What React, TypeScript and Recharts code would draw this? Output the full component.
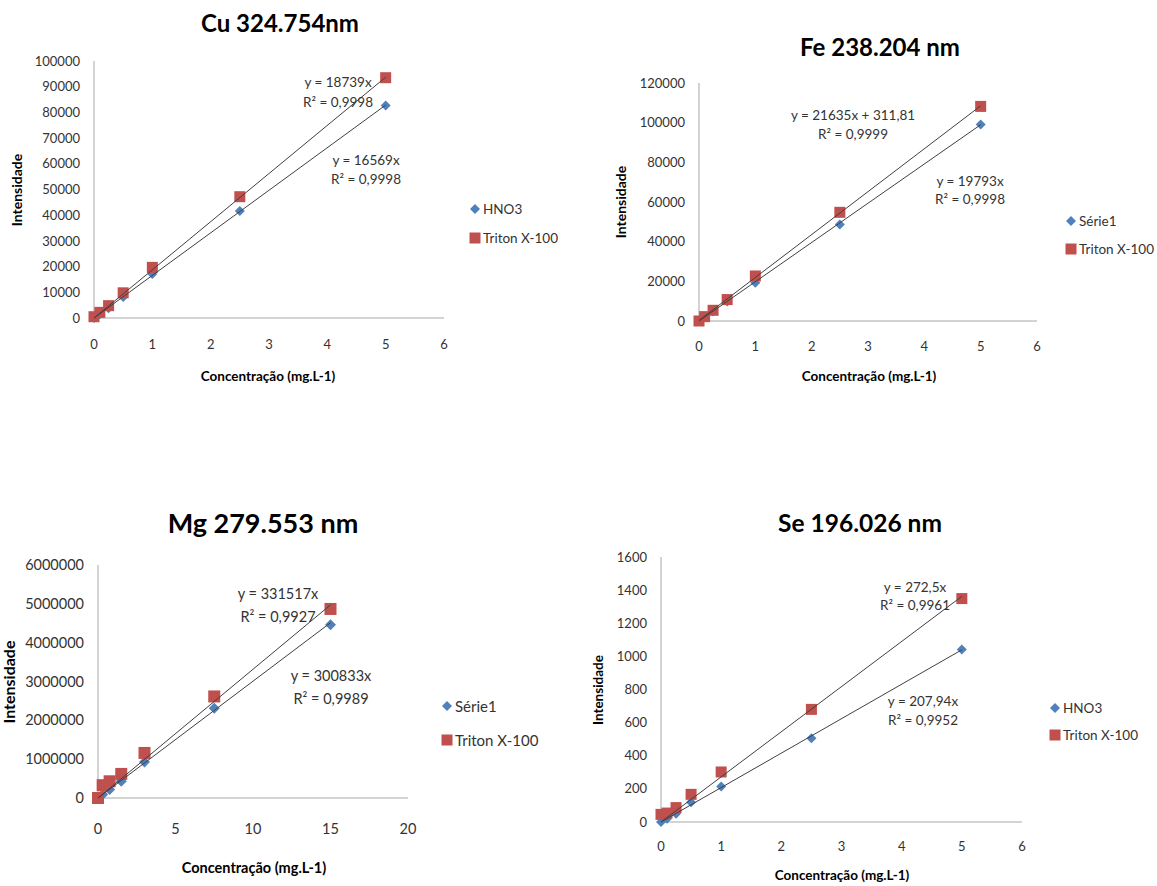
import React from 'react';
import { ScatterChart, Scatter, XAxis, YAxis, Legend } from 'recharts';

const FONT = "Lato, 'Open Sans', 'Liberation Sans', sans-serif";
const BLUE = '#4f81bd';
const RED = '#c0504d';
const FIT = '#404040';
const AXIS = '#c4c4c4';
const TEXT = '#333333';

// concentrations (mg.L-1)
const concX = [0, 0.1, 0.25, 0.5, 1, 2.5, 5];
const mgConcX = [0, 0.3, 0.75, 1.5, 3, 7.5, 15];
const fitX = [0, 5];
const mgFitX = [0, 15];

// intensities
const cuHno3 = [0, 1500, 3800, 8200, 17100, 41600, 82700];
const cuTriton = [500, 2200, 4800, 9800, 19700, 47200, 93500];
const feSerie1 = [0, 1900, 4900, 9800, 19300, 48600, 99100];
const feTriton = [0, 2200, 5400, 10800, 22700, 54800, 108200];
const mgSerie1 = [0, 90000, 220000, 430000, 930000, 2310000, 4460000];
const mgTriton = [0, 330000, 430000, 620000, 1160000, 2615000, 4868000];
const seHno3 = [0, 20, 50, 120, 214, 505, 1041];
const seTriton = [46, 54, 87, 167, 302, 680, 1349];

// trendline ends (from the fitted equations)
const cuHno3Fit = [0, 82845];
const cuTritonFit = [0, 93695];
const feSerie1Fit = [0, 98965];
const feTritonFit = [311.81, 108486.81];
const mgSerie1Fit = [0, 4512495];
const mgTritonFit = [0, 4972755];
const seHno3Fit = [0, 1039.7];
const seTritonFit = [0, 1362.5];

// tick labels
const xTicks6 = [0, 1, 2, 3, 4, 5, 6];
const mgXTicks = [0, 5, 10, 15, 20];
const cuYTicks = [0, 10000, 20000, 30000, 40000, 50000, 60000, 70000, 80000, 90000, 100000];
const feYTicks = [0, 20000, 40000, 60000, 80000, 100000, 120000];
const mgYTicks = [0, 1000000, 2000000, 3000000, 4000000, 5000000, 6000000];
const seYTicks = [0, 200, 400, 600, 800, 1000, 1200, 1400, 1600];

const pts = (xs: number[], ys: number[]) => xs.map((x, i) => ({ x, y: ys[i] }));

const diamondShape = (r: number) => (p: any) => (
  <path d={`M${p.cx},${p.cy - r}L${p.cx + r},${p.cy}L${p.cx},${p.cy + r}L${p.cx - r},${p.cy}Z`} fill={BLUE} />
);
const squareShape = (s: number) => (p: any) => (
  <rect x={p.cx - s / 2} y={p.cy - s / 2} width={s} height={s} fill={RED} />
);
const noShape = () => <g />;

type Txt = { text: string; x: number; y: number; size: number; bold?: boolean; rotate?: boolean; color?: string };

type PanelCfg = {
  box: { left: number; top: number; width: number; height: number };
  plot: { left: number; right: number; top: number; bottom: number };
  xDomain: [number, number];
  xTicks: number[];
  yDomain: [number, number];
  yTicks: number[];
  blueName: string;
  blue: { x: number; y: number }[];
  red: { x: number; y: number }[];
  blueFit: { x: number; y: number }[];
  redFit: { x: number; y: number }[];
  tickFont: number;
  xTickMargin: number;
  legend: { x: number; y: number; gap: number; font: number };
  marker: number;
  texts: Txt[];
};

const panels: PanelCfg[] = [
  {
    box: { left: 0, top: 0, width: 580, height: 400 },
    plot: { left: 94, right: 444, top: 61, bottom: 318 },
    xDomain: [0, 6], xTicks: xTicks6, yDomain: [0, 100000], yTicks: cuYTicks,
    blueName: 'HNO3',
    blue: pts(concX, cuHno3), red: pts(concX, cuTriton),
    blueFit: pts(fitX, cuHno3Fit), redFit: pts(fitX, cuTritonFit),
    tickFont: 13, xTickMargin: 22,
    legend: { x: 475, y: 209, gap: 29, font: 13.5 },
    marker: 11,
    texts: [
      { text: 'Cu 324.754nm', x: 280, y: 23, size: 24, bold: true, color: '#000' },
      { text: 'Concentração (mg.L-1)', x: 268, y: 377, size: 13.5, bold: true, color: '#000' },
      { text: 'Intensidade', x: 17, y: 190, size: 14, bold: true, rotate: true, color: '#000' },
      { text: 'y = 18739x', x: 338, y: 83, size: 13.5 },
      { text: 'R² = 0,9998', x: 338, y: 103, size: 13.5 },
      { text: 'y = 16569x', x: 366, y: 161, size: 13.5 },
      { text: 'R² = 0,9998', x: 366, y: 180, size: 13.5 },
    ],
  },
  {
    box: { left: 580, top: 0, width: 577, height: 400 },
    plot: { left: 699, right: 1037, top: 83, bottom: 321 },
    xDomain: [0, 6], xTicks: xTicks6, yDomain: [0, 120000], yTicks: feYTicks,
    blueName: 'Série1',
    blue: pts(concX, feSerie1), red: pts(concX, feTriton),
    blueFit: pts(fitX, feSerie1Fit), redFit: pts(fitX, feTritonFit),
    tickFont: 13, xTickMargin: 21,
    legend: { x: 1071, y: 221, gap: 28, font: 13.5 },
    marker: 11,
    texts: [
      { text: 'Fe 238.204 nm', x: 880, y: 47, size: 24, bold: true, color: '#000' },
      { text: 'Concentração (mg.L-1)', x: 869, y: 377, size: 13.5, bold: true, color: '#000' },
      { text: 'Intensidade', x: 621, y: 202, size: 14, bold: true, rotate: true, color: '#000' },
      { text: 'y = 21635x + 311,81', x: 853, y: 116, size: 13.5 },
      { text: 'R² = 0,9999', x: 853, y: 135, size: 13.5 },
      { text: 'y = 19793x', x: 970, y: 182, size: 13.5 },
      { text: 'R² = 0,9998', x: 970, y: 200, size: 13.5 },
    ],
  },
  {
    box: { left: 0, top: 490, width: 580, height: 396 },
    plot: { left: 98, right: 408, top: 565, bottom: 798 },
    xDomain: [0, 20], xTicks: mgXTicks, yDomain: [0, 6000000], yTicks: mgYTicks,
    blueName: 'Série1',
    blue: pts(mgConcX, mgSerie1), red: pts(mgConcX, mgTriton),
    blueFit: pts(mgFitX, mgSerie1Fit), redFit: pts(mgFitX, mgTritonFit),
    tickFont: 14.5, xTickMargin: 26,
    legend: { x: 447, y: 706, gap: 34, font: 15 },
    marker: 12,
    texts: [
      { text: 'Mg 279.553 nm', x: 263, y: 522, size: 27, bold: true, color: '#000' },
      { text: 'Concentração (mg.L-1)', x: 254, y: 868, size: 14.5, bold: true, color: '#000' },
      { text: 'Intensidade', x: 9, y: 682, size: 16, bold: true, rotate: true, color: '#000' },
      { text: 'y = 331517x', x: 278, y: 594, size: 14.5 },
      { text: 'R² = 0,9927', x: 278, y: 617, size: 14.5 },
      { text: 'y = 300833x', x: 331, y: 676, size: 14.5 },
      { text: 'R² = 0,9989', x: 331, y: 699, size: 14.5 },
    ],
  },
  {
    box: { left: 580, top: 490, width: 577, height: 396 },
    plot: { left: 661, right: 1022, top: 557, bottom: 822 },
    xDomain: [0, 6], xTicks: xTicks6, yDomain: [0, 1600], yTicks: seYTicks,
    blueName: 'HNO3',
    blue: pts(concX, seHno3), red: pts(concX, seTriton),
    blueFit: pts(fitX, seHno3Fit), redFit: pts(fitX, seTritonFit),
    tickFont: 13, xTickMargin: 20,
    legend: { x: 1055, y: 708, gap: 27, font: 13.5 },
    marker: 11,
    texts: [
      { text: 'Se 196.026 nm', x: 860, y: 523, size: 24.5, bold: true, color: '#000' },
      { text: 'Concentração (mg.L-1)', x: 842, y: 876, size: 13.5, bold: true, color: '#000' },
      { text: 'Intensidade', x: 599, y: 690, size: 13.5, bold: true, rotate: true, color: '#000' },
      { text: 'y = 272,5x', x: 915, y: 588, size: 13.5 },
      { text: 'R² = 0,9961', x: 915, y: 606, size: 13.5 },
      { text: 'y = 207,94x', x: 923, y: 702, size: 13.5 },
      { text: 'R² = 0,9952', x: 923, y: 721, size: 13.5 },
    ],
  },
];

const Panel = ({ cfg }: { cfg: PanelCfg }) => {
  const { box, plot, legend } = cfg;
  const margin = { top: plot.top - box.top, right: box.left + box.width - plot.right, bottom: 0, left: 0 };
  const tick = { fill: TEXT, fontSize: cfg.tickFont, fontFamily: FONT };
  const half = cfg.marker / 2;

  const renderLegend = (props: any) => (
    <div style={{ fontFamily: FONT, fontSize: legend.font, color: TEXT }}>
      {(props.payload || []).filter((e: any) => e.type !== 'none').map((e: any) => (
        <div key={e.value} style={{ display: 'flex', alignItems: 'center', height: legend.gap, whiteSpace: 'nowrap' }}>
          <svg width={12} height={12} style={{ marginRight: 2 }}>
            {e.type === 'diamond'
              ? <path d="M6,1L11,6L6,11L1,6Z" fill={BLUE} />
              : <rect x={0.5} y={0.5} width={11} height={11} fill={RED} />}
          </svg>
          <span>{e.value}</span>
        </div>
      ))}
    </div>
  );

  return (
    <div style={{ position: 'absolute', left: box.left, top: box.top }}>
      <ScatterChart width={box.width} height={box.height} margin={margin}>
        <XAxis
          type="number"
          dataKey="x"
          domain={cfg.xDomain}
          ticks={cfg.xTicks}
          interval={0}
          height={box.top + box.height - plot.bottom}
          tickLine={false}
          tickSize={0}
          tickMargin={cfg.xTickMargin}
          axisLine={{ stroke: AXIS, strokeWidth: 1.5 }}
          tick={tick}
        />
        <YAxis
          type="number"
          dataKey="y"
          domain={cfg.yDomain}
          ticks={cfg.yTicks}
          interval={0}
          width={plot.left - box.left}
          tickLine={false}
          tickSize={0}
          tickMargin={14}
          axisLine={{ stroke: AXIS, strokeWidth: 1.5 }}
          tick={tick}
        />
        <Legend
          layout="vertical"
          align="center"
          verticalAlign="middle"
          content={renderLegend}
          wrapperStyle={{ left: legend.x - 6 - box.left, top: legend.y - legend.gap / 2 - box.top, width: 'auto' }}
        />
        <Scatter name={cfg.blueName} data={cfg.blue} legendType="diamond" fill={BLUE} shape={diamondShape(half - 0.5)} isAnimationActive={false} />
        <Scatter name="Triton X-100" data={cfg.red} legendType="square" fill={RED} shape={squareShape(cfg.marker)} isAnimationActive={false} />
        <Scatter data={cfg.blueFit} legendType="none" line={{ stroke: FIT, strokeWidth: 1 }} shape={noShape} isAnimationActive={false} />
        <Scatter data={cfg.redFit} legendType="none" line={{ stroke: FIT, strokeWidth: 1 }} shape={noShape} isAnimationActive={false} />
      </ScatterChart>
    </div>
  );
};

export default function App() {
  return (
    <div style={{ position: 'absolute', left: 0, top: 0, width: 1157, height: 886, background: '#fff', fontFamily: FONT, overflow: 'hidden' }}>
      {panels.map((p, i) => <Panel key={i} cfg={p} />)}
      {panels.flatMap((p, i) =>
        p.texts.map((t, j) => (
          <div
            key={`${i}-${j}`}
            style={{
              position: 'absolute',
              left: t.x,
              top: t.y,
              transform: `translate(-50%, -50%)${t.rotate ? ' rotate(-90deg)' : ''}`,
              fontSize: t.size,
              fontWeight: t.bold ? 700 : 400,
              color: t.color || TEXT,
              whiteSpace: 'nowrap',
              lineHeight: 1,
            }}
          >
            {t.text}
          </div>
        ))
      )}
    </div>
  );
}
